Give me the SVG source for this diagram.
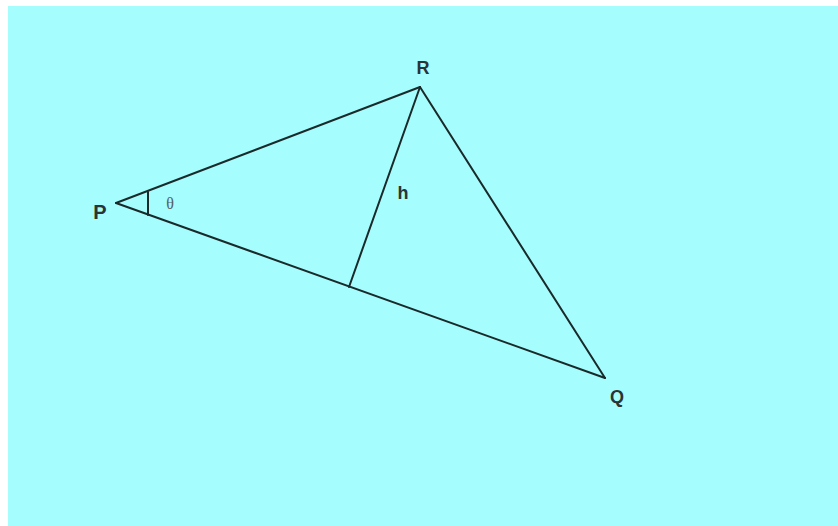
<svg xmlns="http://www.w3.org/2000/svg" width="838" height="526" viewBox="0 0 838 526">
<style>
.ln{stroke:#1a2a2a;stroke-width:2;fill:none;stroke-linecap:round}
.lb{font-family:"Liberation Sans",Arial,sans-serif;font-size:18px;font-weight:bold;fill:#2a3434;text-anchor:middle}
</style>
<rect x="0" y="0" width="838" height="526" fill="#ffffff"/>
<rect x="8" y="6" width="830" height="520" fill="#a6fdfe"/>
<g id="connectors">
<line class="ln" x1="116" y1="203" x2="420" y2="87"/>
<line class="ln" x1="116" y1="203" x2="605" y2="378"/>
<line class="ln" x1="420" y1="87" x2="605" y2="378"/>
<line class="ln" x1="420" y1="87" x2="349" y2="287"/>
<line class="ln" x1="148" y1="192" x2="148" y2="215"/>
</g>
<g id="P"><text class="lb" x="100" y="219" style="font-size:20px">P</text></g>
<g id="R"><text class="lb" x="423" y="74">R</text></g>
<g id="Q"><text class="lb" x="617" y="403">Q</text></g>
<g id="h"><text class="lb" x="403" y="199">h</text></g>
<g id="theta"><text x="170" y="209" style="font-family:'Liberation Serif',serif;font-size:16px;fill:#556060;text-anchor:middle">θ</text></g>
</svg>
